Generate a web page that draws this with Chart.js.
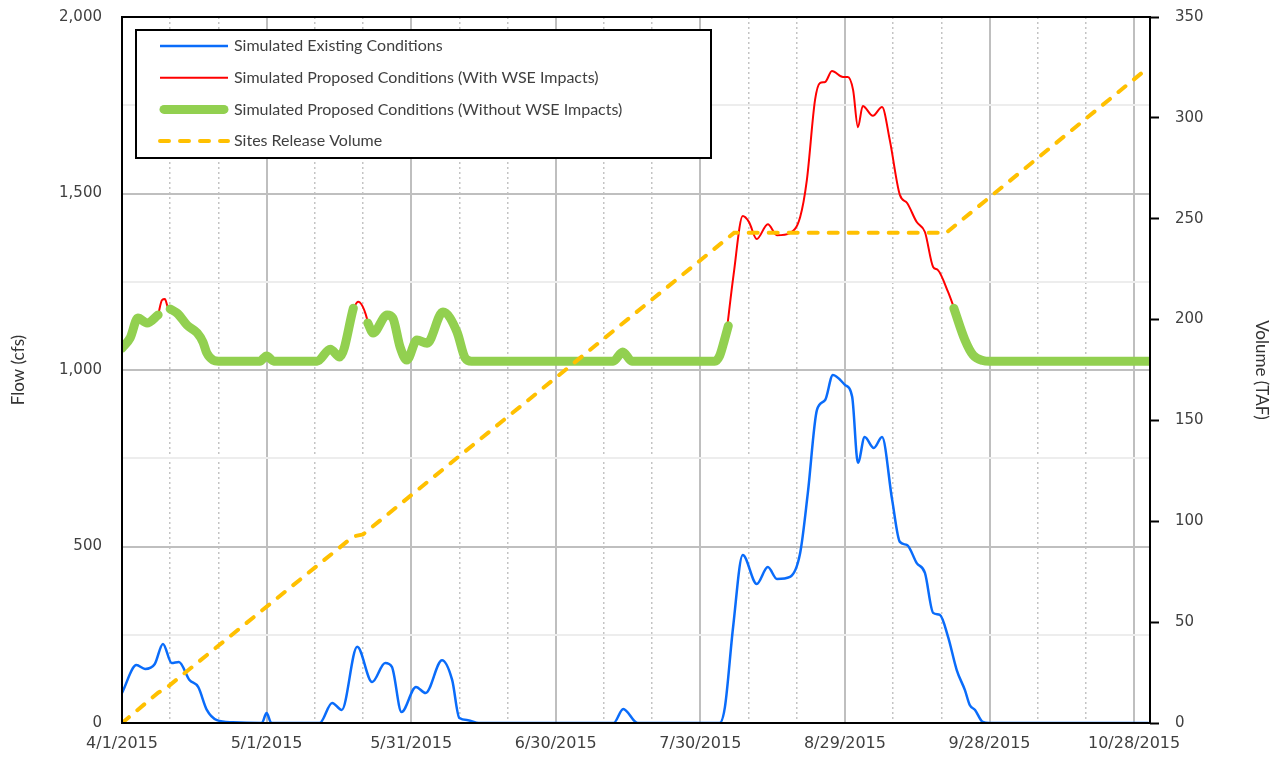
<!DOCTYPE html>
<html>
<head>
<meta charset="utf-8">
<script src="https://cdn.jsdelivr.net/npm/chart.js@4/dist/chart.umd.min.js"></script>
<style>
  html, body { margin: 0; padding: 0; background: #fff; }
  #wrap { width: 1275px; height: 767px; }
</style>
</head>
<body>
<div id="wrap"><canvas id="flowChart" width="1275" height="767"></canvas></div>
<script>
// x values are days after 4/1/2015
const xTickLabels = ['4/1/2015', '5/1/2015', '5/31/2015', '6/30/2015', '7/30/2015', '8/29/2015', '9/28/2015', '10/28/2015'];
const lastDay = 213.3;

const existingDays = [0, 3, 4.8, 6.8, 8.5, 10.3, 11.8, 14, 15.8, 17.6, 19.7, 23, 29, 30, 31, 41, 43.6, 45.6, 48.8, 51.9,
    54.6, 56, 58, 61, 63, 66.4, 68.5, 70, 71.8, 74, 102, 104, 107, 124, 125.1, 126.8, 128.8, 131.7, 134, 135.9,
    138.6, 140.7, 142.3, 144.2, 145.9, 147.5, 150, 151.5, 152.7, 154.1, 156, 157.7, 159.8, 161.4, 162.9, 164.9,
    166.6, 168.3, 169.7, 171.4, 173.2, 174.9, 175.9, 177, 178.6, 180, 213];
const existingFlow = [85, 164, 153, 167, 224, 170, 173, 122, 102, 37, 8, 2, 0, 28, 0, 0, 57, 37, 216, 116,
    170, 159, 31, 102, 85, 178, 122, 14, 8, 0, 0, 40, 0, 0, 45, 272, 476, 394, 442, 408,
    414, 481, 651, 887, 915, 986, 958, 924, 737, 810, 779, 810, 632, 513, 504, 453,
    425, 312, 306, 244, 150, 93, 51, 37, 3, 0, 0];

const withWseDays = [7.5, 8.3, 8.9, 9.5, 10, 20, 48, 49, 50.8, 51, 90, 125.5, 126.9, 128.8, 130.1, 131.7, 134,
    135.9, 138.6, 140.7, 142.1, 143.8, 144.8, 145.9, 147.3, 149.6, 150.6, 151.7, 152.7, 153.7, 155.8, 157.7,
    159.3, 161.4, 162.9, 164.9, 166.6, 168.3, 169.3, 171.4, 172.8];
const withWseFlow = [1156, 1198, 1201, 1178, 1173, null, 1175, 1193, 1147, 1133, null, 1113, 1270, 1436, 1419, 1371, 1413,
    1382, 1388, 1433, 1538, 1765, 1813, 1816, 1847, 1830, 1830, 1793, 1688, 1748, 1720, 1745,
    1652, 1496, 1473, 1419, 1391, 1292, 1283, 1221, 1170];

const withoutWseDays = [0, 1.7, 3.3, 5.2, 7.5, 8.7, 10, 11.6, 13.5, 15.6, 16.8, 17.6, 18.9, 20, 28.6, 30, 31.5, 40.5,
    43.2, 45.2, 48, 49.5, 51, 52.1, 55, 56.2, 57.7, 59.1, 61.2, 63.3, 66.6, 69.5, 71.2, 72.5, 101.9, 103.9, 105.8,
    123, 124, 125, 125.8, 150, 172.6, 174.9, 176.6, 178.6, 180, 213];
const withoutWseFlow = [1062, 1091, 1147, 1133, 1156, null, 1173, 1159, 1127, 1105, 1079, 1048, 1028, 1025, 1025, 1040, 1025, 1025,
    1059, 1037, 1175, null, 1133, 1105, 1156, 1147, 1065, 1028, 1085, 1076, 1164, 1108, 1034, 1025, 1025, 1051, 1025,
    1025, 1040, 1085, 1125, null, 1175, 1085, 1042, 1027, 1025, 1025];

const volumeDays = [0, 7.5, 9, 48, 50, 127, 171, 213];
const volumeTaf = [0, 15, 17, 92.5, 93.5, 243, 243, 325];

const toPoints = (days, vals) => days.map((d, i) => ({ x: d, y: vals[i] }));

const tickFont = { family: 'DejaVu Sans', size: 15 };
const titleFont = { family: 'Lato', size: 17 };

// legend box drawn inside the plot, like the Excel original
const boxLegend = {
    id: 'boxLegend',
    afterDraw(chart) {
        const { ctx, chartArea } = chart;
        const bx = chartArea.left + 14, by = chartArea.top + 13;
        ctx.save();
        ctx.fillStyle = '#fff';
        ctx.fillRect(bx, by, 575, 128);
        ctx.strokeStyle = '#000';
        ctx.lineWidth = 2;
        ctx.strokeRect(bx, by, 575, 128);
        chart.data.datasets.forEach((ds, i) => {
            const y = by + 16 + i * 31.7;
            ctx.beginPath();
            ctx.strokeStyle = ds.borderColor;
            ctx.lineWidth = ds.borderWidth;
            ctx.lineCap = ds.borderDash ? 'round' : (ds.borderWidth > 4 ? 'round' : 'butt');
            ctx.setLineDash(ds.borderDash || []);
            ctx.moveTo(bx + (ds.borderWidth > 4 ? 28 : 24), y);
            ctx.lineTo(bx + (ds.borderWidth > 4 ? 88 : 92), y);
            ctx.stroke();
            ctx.setLineDash([]);
            ctx.fillStyle = '#404040';
            ctx.font = '16px Lato';
            ctx.textBaseline = 'middle';
            ctx.fillText(ds.label, bx + 98, y);
        });
        ctx.restore();
    }
};

const plotFrame = {
    id: 'plotFrame',
    afterDatasetsDraw(chart) {
        const { ctx, chartArea } = chart;
        ctx.save();
        ctx.strokeStyle = '#000';
        ctx.lineWidth = 2;
        ctx.strokeRect(chartArea.left, chartArea.top, chartArea.right - chartArea.left, chartArea.bottom - chartArea.top);
        ctx.restore();
    }
};

new Chart(document.getElementById('flowChart'), {
    type: 'line',
    data: {
        datasets: [
            {
                label: 'Simulated Existing Conditions',
                data: toPoints(existingDays, existingFlow),
                borderColor: '#0A6CFA',
                borderWidth: 2.5,
                cubicInterpolationMode: 'monotone',
                pointRadius: 0,
                yAxisID: 'y',
                order: 3
            },
            {
                label: 'Simulated Proposed Conditions (With WSE Impacts)',
                data: toPoints(withWseDays, withWseFlow),
                borderColor: '#FF0000',
                borderWidth: 2,
                cubicInterpolationMode: 'monotone',
                pointRadius: 0,
                yAxisID: 'y',
                order: 2
            },
            {
                label: 'Simulated Proposed Conditions (Without WSE Impacts)',
                data: toPoints(withoutWseDays, withoutWseFlow),
                borderColor: '#92D050',
                borderWidth: 9,
                borderCapStyle: 'round',
                borderJoinStyle: 'round',
                cubicInterpolationMode: 'monotone',
                pointRadius: 0,
                yAxisID: 'y',
                order: 1
            },
            {
                label: 'Sites Release Volume',
                data: toPoints(volumeDays, volumeTaf),
                borderColor: '#FFC000',
                borderWidth: 4,
                borderDash: [9, 11],
                borderCapStyle: 'round',
                tension: 0,
                pointRadius: 0,
                yAxisID: 'y1',
                order: 0
            }
        ]
    },
    options: {
        responsive: false,
        animation: false,
        spanGaps: false,
        layout: { padding: { top: 17, left: 0, right: 0, bottom: 0 } },
        plugins: { legend: { display: false }, tooltip: { enabled: false } },
        scales: {
            x: {
                type: 'linear',
                position: 'bottom',
                min: 0,
                max: lastDay,
                afterBuildTicks: (scale) => {
                    scale.ticks = xTickLabels.map((l, i) => ({ value: i * 30 }));
                },
                afterFit: (scale) => { scale.height = 44; },
                ticks: {
                    autoSkip: false,
                    maxRotation: 0,
                    padding: 11,
                    color: '#404040',
                    font: { family: 'DejaVu Sans', size: 16 },
                    callback: (v) => xTickLabels[Math.round(v / 30)]
                },
                grid: { color: '#BFBFBF', lineWidth: 2, drawTicks: false },
                border: { display: false }
            },
            xMinor: {
                type: 'linear',
                position: 'top',
                min: 0,
                max: lastDay,
                afterBuildTicks: (scale) => {
                    const t = [];
                    for (let d = 10; d < lastDay; d += 10) if (d % 30) t.push({ value: d });
                    scale.ticks = t;
                },
                afterFit: (scale) => { scale.height = 0; },
                ticks: { display: false },
                grid: { color: '#C4C4C4', lineWidth: 1.5, drawTicks: false },
                border: { display: false, dash: [2, 3] }
            },
            y: {
                position: 'left',
                min: 0,
                max: 2000,
                afterFit: (scale) => {
                    scale.width = 122;
                    scale.paddingTop = 0;
                    scale.paddingBottom = 0;
                },
                ticks: {
                    stepSize: 250,
                    padding: 20,
                    color: '#404040',
                    font: tickFont,
                    callback: (v) => (v % 500 === 0 ? v.toLocaleString('en-US') : '')
                },
                grid: {
                    drawTicks: false,
                    lineWidth: 2,
                    color: (c) => (c.tick && c.tick.value % 500 === 0 ? '#BFBFBF' : '#EDEDED')
                },
                border: { display: false },
                title: { display: true, text: 'Flow (cfs)', color: '#333', font: titleFont, padding: { top: 8, bottom: 0 } }
            },
            y1: {
                position: 'right',
                min: 0,
                max: 350,
                afterFit: (scale) => {
                    scale.width = 125;
                    scale.paddingTop = 0;
                    scale.paddingBottom = 0;
                },
                ticks: { stepSize: 50, padding: 16, color: '#404040', font: tickFont },
                grid: { drawOnChartArea: false, drawTicks: true, tickLength: 9, tickColor: '#000', tickWidth: 2 },
                border: { display: false },
                title: { display: true, text: 'Volume (TAF)', color: '#333', font: titleFont, padding: { top: 3, bottom: 0 } }
            }
        }
    },
    plugins: [plotFrame, boxLegend]
});
</script>
</body>
</html>
